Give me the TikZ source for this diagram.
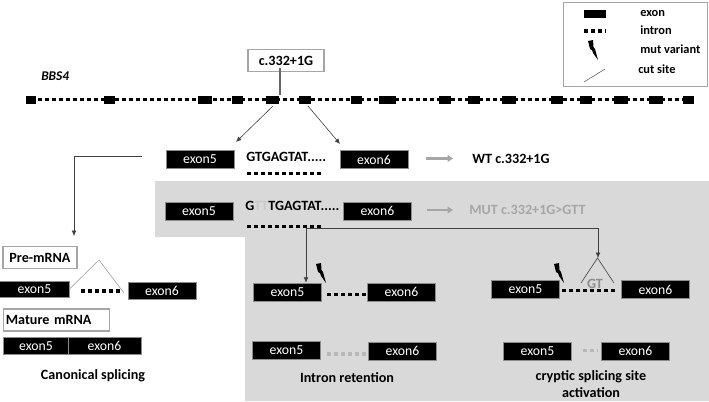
\documentclass[tikz,border=0pt]{standalone}
\usepackage{fontspec}
\setmainfont{Carlito}
\usetikzlibrary{arrows.meta,calc}
\definecolor{panel}{HTML}{D9D9D9}
\definecolor{edgegray}{HTML}{A6A6A6}
\definecolor{midgray}{HTML}{8C8C8C}
\tikzset{
 exonbox/.style={draw=midgray,line width=.5pt,fill=black,text=white,minimum width=51pt,minimum height=13.5pt,inner sep=0pt,font=\fontsize{10.3}{12}\selectfont},
 gexon/.style={fill=black,draw=none,minimum height=6pt,inner sep=0pt},
 labelbox/.style={draw=edgegray,line width=.8pt,fill=white,inner sep=0pt,font=\bfseries\fontsize{10.6}{12}\selectfont},
 lab/.style={font=\bfseries\fontsize{10.6}{12}\selectfont,inner sep=0pt},
 leg/.style={font=\bfseries\fontsize{9.3}{11}\selectfont,inner sep=0pt,anchor=west},
 intron/.style={line width=2.5pt,dash pattern=on 2.7pt off 2.55pt},
 thin conn/.style={draw=black!75,line width=.45pt},
 arr/.style={thin conn,-{Latex[length=4pt,width=3.5pt]}},
 grayarrow/.style={draw=edgegray,line width=2pt,-{Triangle[length=4pt,width=5pt]}},
 cutline/.style={draw=black!60,line width=.45pt},
 bolt/.pic={\fill[black] (0,1)--(5,0)--(5.5,7)--(7,9)--(10,20)--(5,13)--(4,10)--(2,9)--cycle;}
}
\begin{document}
\begin{tikzpicture}[x=.75pt,y=-.75pt]
\useasboundingbox (0,0) rectangle (709,401);
% gray panel
\fill[panel] (155,181)--(709,181)--(709,401)--(245,401)--(245,237)--(155,237)--cycle;
% gene track
\draw[intron] (38,99.5)--(683,99.5);
\foreach \n/\a/\b in {1/26/36,2/104/115,3/198/212,4/232/243,5/266/279,6/299/311,7/351/362,8/379/396,9/439/451,10/468/480,11/502/516,12/551/563,13/580/592,14/614/628,15/649/663,16/683/694}{
 \node[gexon,minimum width={(\b-\a)*.75pt}] (g\n) at ({(\a+\b)/2},99.5) {};
}
\node[lab,font=\bfseries\itshape\fontsize{10}{12}\selectfont,anchor=west] (gene) at (41,76) {BBS4};
\node[labelbox,minimum width=57pt,minimum height=17pt] (var) at (286,60.5) {c.332+1G};
\coordinate (vart) at (280,68);
\draw[draw=black!60,line width=1pt] (vart)--(g5.north -| vart);
% legend
\node[draw=edgegray,line width=.8pt,fill=white,minimum width=108.5pt,minimum height=63.5pt,inner sep=0pt] (legend) at (635.5,44.5) {};
\node[gexon,minimum width=16.5pt,minimum height=6pt] (legexon) at (595,14) {};
\draw[intron] (584,31)--(606,31);
\path (588,40) pic {bolt};
\coordinate (lc1) at (584,82); \coordinate (lc2) at (605,69);
\draw[cutline] (lc1)--(lc2);
\node[leg] (l1) at (640,13) {exon};
\node[leg] (l2) at (640,30) {intron};
\node[leg] (l3) at (640,49) {mut variant};
\node[leg] (l4) at (638,69) {cut site};
% row 1
\node[exonbox] (e5a) at (200,159.5) {exon5};
\node[exonbox] (e6a) at (374,159.5) {exon6};
\node[lab,anchor=west] (seqa) at (246,157) {GTGAGTAT.....};
\draw[intron] (247,173.5)--(321,173.5);
\coordinate (ga1) at (426,158.5); \coordinate (ga2) at (453,158.5);
\draw[grayarrow] (ga1)--(ga2);
\node[lab,anchor=west] (wt) at (472,159) {WT c.332+1G};
\coordinate (a1) at (273,106); \coordinate (a1e) at (236,142);
\coordinate (a2) at (308,106); \coordinate (a2e) at (340,144);
\draw[arr] (a1)--(a1e);
\draw[arr] (a2)--(a2e);
% row 2
\node[exonbox] (e5b) at (199,211) {exon5};
\node[exonbox] (e6b) at (377.5,211) {exon6};
\node[lab,anchor=west] (seqb) at (245,206) {G{\color{edgegray!60}TT}TGAGTAT.....};
\draw[intron] (247,226.5)--(321,226.5);
\coordinate (gb1) at (427,210); \coordinate (gb2) at (453,210);
\draw[grayarrow] (gb1)--(gb2);
\node[lab,anchor=west,text=edgegray] (mut) at (469,210) {MUT c.332+1G>GTT};
% left branch
\coordinate (lb) at (142,156); \coordinate (lbk) at (74,156); \coordinate (lbe) at (74,236);
\draw[arr] (lb)--(lbk)--(lbe);
\node[labelbox,minimum width=55.5pt,minimum height=17pt] (pre) at (40,257.5) {Pre-mRNA};
\node[exonbox,minimum width=52pt,minimum height=12pt] (e5c) at (34.5,289) {exon5};
\node[exonbox,minimum height=12.5pt] (e6c) at (162,290.5) {exon6};
\coordinate (tc) at (99,260);
\draw[draw=edgegray,line width=.5pt] (e5c.east)--(tc)--(124,293);
\draw[intron] (81,291)--(120,291);
\node[labelbox,minimum width=80pt,minimum height=16.5pt,text width=76pt] (mat) at (56.5,320) {Mature mRNA};
\node[exonbox,minimum width=49pt,minimum height=12.5pt] (e5d) at (36,346) {exon5};
\node[exonbox,minimum width=55pt,minimum height=12.5pt] (e6d) at (104.5,346) {exon6};
\node[lab] (can) at (93,375.5) {Canonical splicing};
% middle branch
\coordinate (j) at (306,228.5); \coordinate (jr) at (598,228.5);
\node[exonbox] (e5e) at (287.5,292) {exon5};
\node[exonbox] (e6e) at (401.5,292) {exon6};
\draw[arr] (j)--(j |- e5e.north);
\path (316,263) pic {bolt};
\draw[intron] (327,294.5)--(367,294.5);
\node[exonbox] (e5f) at (286.5,350) {exon5};
\node[exonbox] (e6f) at (402.5,351) {exon6};
\draw[intron,draw=edgegray!80] (327,354)--(367,354);
\node[lab] (ir) at (347,378) {Intron retention};
% right branch
\coordinate (tr) at (597.5,258);
\draw[arr] (j)--(jr)--(jr |- tr);
\node[exonbox] (e5g) at (525.5,289) {exon5};
\node[exonbox] (e6g) at (655.5,289.5) {exon6};
\node[lab,text=midgray] (gt) at (595,284) {GT};
\draw[intron] (562,290.5)--(616,290.5);
\path (554,263) pic {bolt};
\draw[draw=black!70,line width=.5pt] (581,283)--(tr)--(614,283);
\node[exonbox] (e5h) at (537.5,351) {exon5};
\node[exonbox] (e6h) at (635.5,351) {exon6};
\draw[intron,draw=edgegray!80] (583,350.5)--(598,350.5);
\node[lab,align=center,font=\bfseries\fontsize{10.6}{12.2}\selectfont] (cr) at (591,384) {cryptic splicing site\\activation};
\end{tikzpicture}
\end{document}
